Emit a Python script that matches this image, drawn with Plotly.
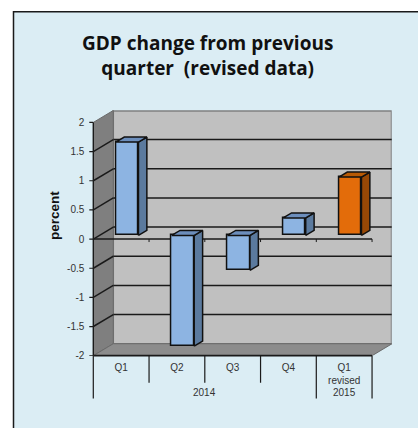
import plotly.graph_objects as go

# --- data ---
quarters = ["Q1", "Q2", "Q3", "Q4", "Q1<br>revised"]
years = ["2014", "2015"]
year_spans = [4, 1]
values = [1.6, -1.9, -0.6, 0.3, 1.0]
y_ticks = [-2, -1.5, -1, -0.5, 0, 0.5, 1, 1.5, 2]
y_tick_text = ["-2", "-1.5", "-1", "-0.5", "0", "0.5", "1", "1.5", "2"]
title_text = "GDP change from previous<br>quarter  (revised data)"
y_title = "percent"

# --- styling / geometry ---
W, H = 418, 428


def py(y):
    return (y + 1.3) / 0.99


px_left, px_right, px_top, px_bottom = 93.3, 391.7, py(109), py(355)
unit_x, unit_y = 55.75, 59.0
n = len(quarters)
wall_dx, wall_dy = 20 / unit_x, 12 / 58.4
bar_off_x, bar_off_y = 6 / unit_x, 3.7 / 58.4
bar_w = 0.405
depth_x, depth_y = 8.4 / unit_x, 5 / 58.4
front = ["#8DB4E2"] * 4 + ["#E36C0A"]
side = ["#5B7A9E"] * 4 + ["#974806"]
top = ["#6C8EBC"] * 4 + ["#B85A05"]
TICK = "#333333"
DARK = "#1a1a1a"
FONT = "Liberation Sans"


def poly(points):
    return "M" + " L".join(f"{x},{y}" for x, y in points) + " Z"


ymin, ymax = y_ticks[0], y_ticks[-1]
shapes = [
    dict(type="rect", xref="paper", yref="paper", x0=13.5 / W, x1=1.02, y0=-0.02, y1=1 - py(10.5) / H,
         fillcolor="#DBEDF4", line=dict(color=DARK, width=1.5), layer="below"),
    dict(type="path", xref="x", yref="y", layer="below", fillcolor="#C0C0C0",
         line=dict(color="#808080", width=1.5),
         path=poly([(wall_dx, ymin + wall_dy), (n + wall_dx - 0.01, ymin + wall_dy),
                    (n + wall_dx - 0.01, ymax + wall_dy - 0.01), (wall_dx, ymax + wall_dy - 0.01)])),
    dict(type="path", xref="x", yref="y", layer="below", fillcolor="#7F7F7F",
         line=dict(color="#6a6a6a", width=1),
         path=poly([(0, ymin), (wall_dx, ymin + wall_dy), (wall_dx, ymax + wall_dy), (0, ymax)])),
    dict(type="path", xref="x", yref="y", layer="below", fillcolor="#8C8C8C",
         line=dict(color="#6a6a6a", width=1),
         path=poly([(0, ymin), (n, ymin), (n + wall_dx, ymin + wall_dy), (wall_dx, ymin + wall_dy)])),
]
for t in y_ticks[1:-1]:
    shapes.append(dict(type="line", xref="x", yref="y", layer="below", x0=wall_dx, x1=n + wall_dx,
                       y0=t + wall_dy, y1=t + wall_dy, line=dict(color=DARK, width=1.5)))
    shapes.append(dict(type="line", xref="x", yref="y", layer="below", x0=0, x1=wall_dx,
                       y0=t, y1=t + wall_dy, line=dict(color=DARK, width=1.5)))
shapes.append(dict(type="line", xref="x", yref="y", layer="below", x0=0, x1=n, y0=0, y1=0,
                   line=dict(color=DARK, width=1.5)))
for i in range(1, n + 1):
    shapes.append(dict(type="line", xref="x", yref="y", layer="below", x0=i, x1=i, y0=0, y1=-3 / unit_y,
                       line=dict(color=DARK, width=1)))

axis_left = px_left / W
axis_bottom = 1 - px_bottom / H
for t in y_ticks:
    shapes.append(dict(type="line", xref="paper", yref="y", layer="above", x0=(px_left - 4) / W, x1=axis_left,
                       y0=t, y1=t, line=dict(color=DARK, width=1.2)))
shapes.append(dict(type="line", xref="paper", yref="y", layer="above", x0=axis_left, x1=axis_left,
                   y0=ymin, y1=ymax, line=dict(color=DARK, width=1.4)))
shapes.append(dict(type="line", xref="x", yref="paper", layer="above", x0=0, x1=n,
                   y0=axis_bottom, y1=axis_bottom, line=dict(color=DARK, width=1.8)))
long_end = 1 - py(398) / H
short_end = 1 - py(382) / H
shapes.append(dict(type="line", xref="paper", yref="paper", layer="above", x0=axis_left, x1=axis_left,
                   y0=axis_bottom, y1=long_end, line=dict(color=DARK, width=1.2)))
group_edges = [sum(year_spans[:k + 1]) for k in range(len(year_spans))]
for i in range(1, n + 1):
    shapes.append(dict(type="line", xref="x", yref="paper", layer="above", x0=i, x1=i,
                       y0=axis_bottom, y1=long_end if i in group_edges else short_end,
                       line=dict(color=DARK, width=1.2)))

fig = go.Figure()
centers = [i + 0.5 for i in range(n)]
fig.add_trace(go.Bar(
    x=[c + bar_off_x for c in centers], y=values, base=[bar_off_y] * n, width=bar_w,
    marker=dict(color=front, line=dict(color="#111111", width=1.5)),
    showlegend=False, hoverinfo="skip"))

for i, v in enumerate(values):
    xl = centers[i] + bar_off_x - bar_w / 2
    xr = xl + bar_w
    hi = max(v, 0) + bar_off_y
    lo = min(v, 0) + bar_off_y
    fig.add_trace(go.Scatter(
        x=[xr, xr + depth_x, xr + depth_x, xr, xr], y=[lo, lo + depth_y, hi + depth_y, hi, lo],
        mode="lines", fill="toself", fillcolor=side[i], line=dict(color="#111111", width=1.5),
        showlegend=False, hoverinfo="skip"))
    fig.add_trace(go.Scatter(
        x=[xl, xl + depth_x, xr + depth_x, xr, xl], y=[hi, hi + depth_y, hi + depth_y, hi, hi],
        mode="lines", fill="toself", fillcolor=top[i], line=dict(color="#111111", width=1.5),
        showlegend=False, hoverinfo="skip"))

annotations = [
    dict(text=title_text, xref="paper", yref="paper", x=207 / W, y=1 - py(54.5) / H, showarrow=False,
         xanchor="center", yanchor="middle", align="center",
         font=dict(family="Open Sans", size=19, color="#111111", weight="bold")),
    dict(text=y_title, xref="paper", yref="paper", x=55 / W, y=1 - py(215) / H, showarrow=False, textangle=-90,
         xanchor="center", yanchor="middle",
         font=dict(family=FONT, size=13.5, color="#111111", weight="bold")),
]
start = 0
for yr, s in zip(years, year_spans):
    annotations.append(dict(text=yr, xref="x", yref="paper", x=start + s / 2, y=1 - py(392) / H, showarrow=False,
                            xanchor="center", yanchor="middle",
                            font=dict(family=FONT, size=10, color=TICK)))
    start += s

fig.update_layout(
    width=W, height=H, autosize=False, margin=dict(l=0, r=0, t=0, b=0),
    paper_bgcolor="white", plot_bgcolor="rgba(0,0,0,0)",
    shapes=shapes, annotations=annotations, showlegend=False,
    bargap=0,
    xaxis=dict(domain=[px_left / W, px_right / W], range=[0, (px_right - px_left) / unit_x],
               tickmode="array", tickvals=centers, ticktext=quarters,
               ticks="outside", ticklen=2, tickcolor="rgba(0,0,0,0)", showgrid=False, zeroline=False,
               showline=False, tickfont=dict(family=FONT, size=10, color=TICK), tickangle=0, fixedrange=True),
    yaxis=dict(domain=[1 - px_bottom / H, 1 - px_top / H],
               range=[ymin, ymin + (px_bottom - px_top) / unit_y],
               tickmode="array", tickvals=y_ticks, ticktext=y_tick_text,
               ticks="", showgrid=False, zeroline=False,
               showline=False, ticklabelstandoff=8,
               tickfont=dict(family=FONT, size=10, color=TICK), fixedrange=True),
)
fig.write_html("out.html", config=dict(displayModeBar=False),
               post_script="document.body.style.margin='0';")
